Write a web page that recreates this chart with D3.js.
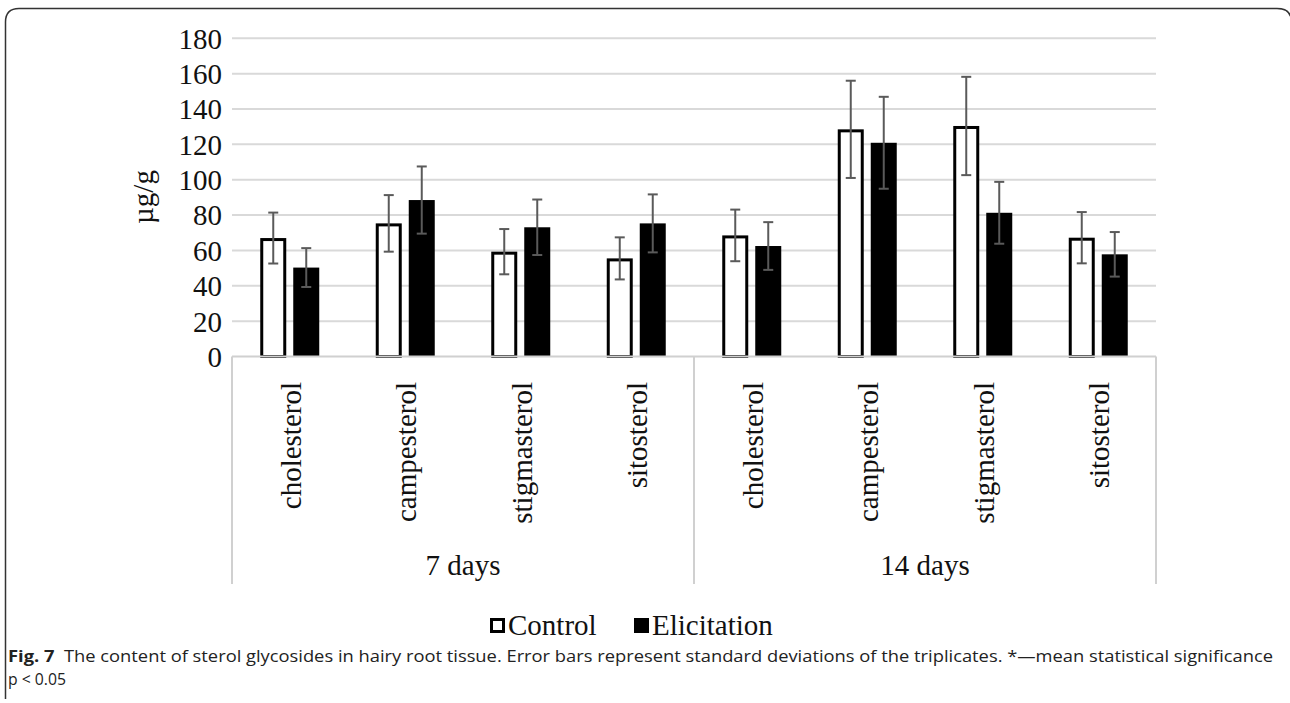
<!DOCTYPE html>
<html>
<head>
<meta charset="utf-8">
<script src="https://cdn.jsdelivr.net/npm/d3@7"></script>
<style>
  html, body { margin: 0; padding: 0; background: #fff; }
  svg { display: block; }
</style>
</head>
<body>
<svg id="chart" width="1290" height="703"></svg>
<script>
// ---- data ----
const compounds = ["cholesterol", "campesterol", "stigmasterol", "sitosterol"];
const groups = ["7 days", "14 days"];
const series = ["Control", "Elicitation"];
const control = [67, 75.3, 59.3, 55.5, 68.5, 128.5, 130.4, 67.2];
const controlSD = [14.4, 16, 12.8, 11.9, 14.6, 27.5, 27.8, 14.5];
const elicitation = [50.3, 88.5, 73.1, 75.3, 62.5, 120.9, 81.3, 57.8];
const elicitationSD = [11, 19, 15.7, 16.4, 13.5, 26, 17.5, 12.6];
const yTicks = [0, 20, 40, 60, 80, 100, 120, 140, 160, 180];
const yTitle = "µg/g";
const captionBold = "Fig. 7";
const captionText = "The content of sterol glycosides in hairy root tissue. Error bars represent standard deviations of the triplicates. *—mean statistical significance";
const captionLine2 = "p < 0.05";

// ---- build rows ----
const rows = [];
groups.forEach((g, gi) => compounds.forEach((c, ci) => {
  const i = gi * compounds.length + ci;
  rows.push({ key: g + "|" + c, group: g, compound: c,
    values: [
      { s: "Control", v: control[i], sd: controlSD[i] },
      { s: "Elicitation", v: elicitation[i], sd: elicitationSD[i] }
    ]});
}));

const svg = d3.select("#chart");
const serif = "'Liberation Serif', 'Times New Roman', serif";

const plotLeft = 232, plotRight = 1156, plotTop = 38.3, plotBottom = 356.5;

const x0 = d3.scaleBand().domain(rows.map(r => r.key)).range([plotLeft, plotRight]).paddingInner(0).paddingOuter(0);
const step = x0.bandwidth();
const x1 = d3.scaleBand().domain(series).range([(step - 59) / 2, (step + 59) / 2]).paddingInner(7 / 33).paddingOuter(0);
const y = d3.scaleLinear().domain([0, 180]).range([plotBottom, plotTop]);

// gridlines
svg.append("g").selectAll("line").data(yTicks.filter(t => t > 0)).join("line")
  .attr("x1", plotLeft).attr("x2", plotRight)
  .attr("y1", d => y(d)).attr("y2", d => y(d))
  .attr("stroke", "#d9d9d9").attr("stroke-width", 2);

// y axis labels
const yAxis = d3.axisLeft(y).tickValues(yTicks).tickSize(0).tickPadding(10);
const ya = svg.append("g").attr("transform", `translate(${plotLeft},0)`).call(yAxis);
ya.select(".domain").remove();
ya.selectAll("text").attr("font-family", serif).attr("font-size", 29).attr("fill", "#111").attr("dy", "0.34em");

// y title
svg.append("text")
  .attr("transform", `translate(153,197) rotate(-90)`)
  .attr("text-anchor", "middle")
  .attr("font-family", serif).attr("font-size", 29).attr("fill", "#111")
  .text(yTitle);

// bars
const cat = svg.append("g").selectAll("g").data(rows).join("g")
  .attr("transform", d => `translate(${x0(d.key)},0)`);

cat.selectAll("rect").data(d => d.values).join("rect")
  .attr("x", d => x1(d.s) + (d.s === "Control" ? 1.5 : 0))
  .attr("width", d => x1.bandwidth() - (d.s === "Control" ? 3 : 0))
  .attr("y", d => y(d.v) + (d.s === "Control" ? 1.5 : 0))
  .attr("height", d => y(0) - y(d.v) - (d.s === "Control" ? 1.5 : 0))
  .attr("fill", d => d.s === "Control" ? "#fff" : "#000")
  .attr("stroke", d => d.s === "Control" ? "#000" : "none")
  .attr("stroke-width", 3);

// baseline
svg.append("line").attr("x1", plotLeft).attr("x2", plotRight)
  .attr("y1", y(0)).attr("y2", y(0))
  .attr("stroke", "#d0d0d0").attr("stroke-width", 2);

// error bars
const eb = cat.selectAll("g.err").data(d => d.values).join("g").attr("class", "err")
  .attr("stroke", "#5a5a5a").attr("stroke-width", 2);
eb.append("line")
  .attr("x1", d => x1(d.s) + x1.bandwidth() / 2).attr("x2", d => x1(d.s) + x1.bandwidth() / 2)
  .attr("y1", d => y(d.v + d.sd)).attr("y2", d => y(d.v - d.sd));
[1, -1].forEach(sign => {
  eb.append("line")
    .attr("x1", d => x1(d.s) + x1.bandwidth() / 2 - 5).attr("x2", d => x1(d.s) + x1.bandwidth() / 2 + 5)
    .attr("y1", d => y(d.v + sign * d.sd)).attr("y2", d => y(d.v + sign * d.sd));
});

// category labels
cat.append("text")
  .attr("transform", d => `translate(${step / 2 + 1},382) rotate(-90)`)
  .attr("text-anchor", "end").attr("dominant-baseline", "central")
  .attr("font-family", serif).attr("font-size", 29).attr("fill", "#111")
  .text(d => d.compound);

// group separators
const gx = [plotLeft, x0(rows[4].key), plotRight];
svg.append("g").selectAll("line").data(gx).join("line")
  .attr("x1", d => d).attr("x2", d => d)
  .attr("y1", plotBottom).attr("y2", 584)
  .attr("stroke", "#d0d0d0").attr("stroke-width", 2);

// group labels
svg.append("g").selectAll("text").data(groups).join("text")
  .attr("x", (d, i) => (gx[i] + gx[i + 1]) / 2).attr("y", 575)
  .attr("text-anchor", "middle")
  .attr("font-family", serif).attr("font-size", 29).attr("fill", "#111")
  .text(d => d);

// legend
const legend = svg.append("g");
const legX = [490, 634];
series.forEach((s, i) => {
  legend.append("rect")
    .attr("x", legX[i] + (i === 0 ? 1.5 : 0)).attr("y", 618 + (i === 0 ? 1.5 : 0))
    .attr("width", i === 0 ? 12 : 15).attr("height", i === 0 ? 12 : 15)
    .attr("fill", i === 0 ? "#fff" : "#000")
    .attr("stroke", i === 0 ? "#000" : "none").attr("stroke-width", 3);
  legend.append("text")
    .attr("x", legX[i] + 18).attr("y", 635)
    .attr("font-family", serif).attr("font-size", 29).attr("fill", "#111")
    .text(s);
});

// caption
const cap = svg.append("text")
  .attr("x", 8).attr("y", 662)
  .attr("font-family", "'Open Sans', 'Noto Sans', sans-serif").attr("font-size", 16).attr("fill", "#222")
  .attr("textLength", 1265).attr("lengthAdjust", "spacingAndGlyphs");
cap.append("tspan").attr("font-weight", "bold").text(captionBold);
cap.append("tspan").text("\u00a0\u00a0" + captionText);
svg.append("text")
  .attr("x", 8).attr("y", 685)
  .attr("font-family", "'Open Sans', 'Noto Sans', sans-serif").attr("font-size", 16).attr("fill", "#222")
  .attr("textLength", 58).attr("lengthAdjust", "spacingAndGlyphs")
  .text(captionLine2);

// border
svg.append("path")
  .attr("d", "M5.5,699 L5.5,22 Q5.5,8.5 19,8.5 L1277,8.5 Q1291.5,8.5 1291.5,22 L1291.5,699")
  .attr("fill", "none").attr("stroke", "#333").attr("stroke-width", 1.5);
</script>
</body>
</html>
